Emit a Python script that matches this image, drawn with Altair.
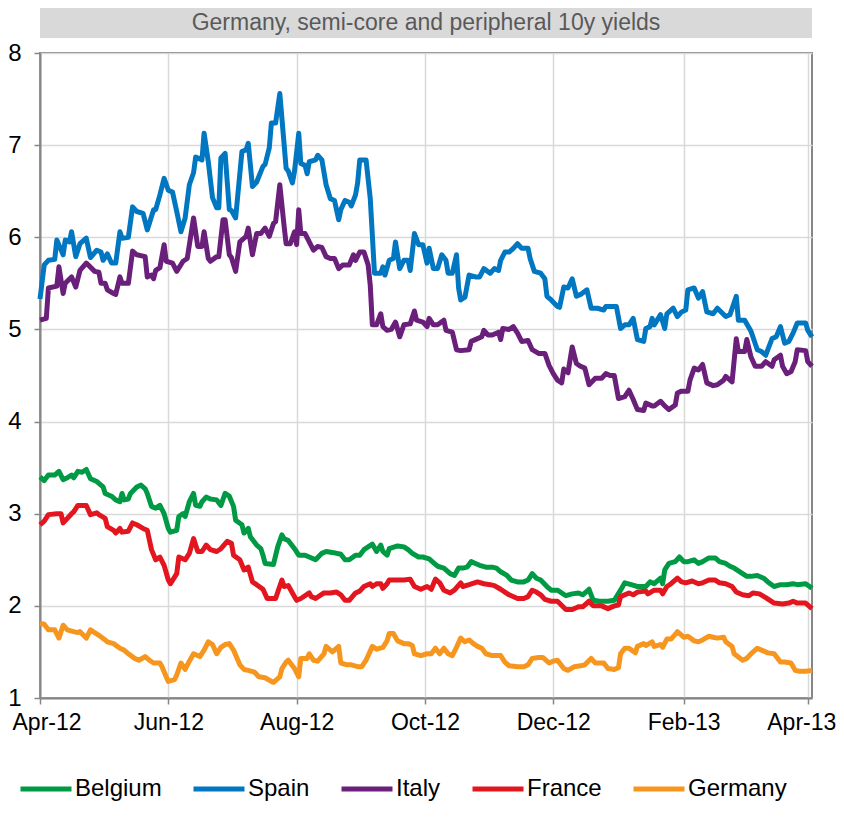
import altair as alt
import pandas as pd

TITLE = "Germany, semi-core and peripheral 10y yields"
START = "2012-04-01"
SERIES = ["Belgium", "Spain", "Italy", "France", "Germany"]
COLORS = ["#009A44", "#0077C0", "#6A1F7A", "#E3161F", "#F7961E"]
TICK_MONTHS = [(2012, 4), (2012, 6), (2012, 8), (2012, 10), (2012, 12), (2013, 2), (2013, 4)]
Y_TICKS = [1, 2, 3, 4, 5, 6, 7, 8]

# (days since 2012-04-01, yield %)
BELGIUM = [(0,3.40),(2,3.36),(4,3.42),(7,3.42),(9,3.46),(11,3.37),(13,3.39),(15,3.42),(16,3.39),(18,3.46),(20,3.45),(22,3.48),(24,3.38),(27,3.35),(28,3.33),(30,3.29),(31,3.22),(34,3.19),(36,3.15),(38,3.13),(39,3.22),(40,3.15),(42,3.16),(43,3.22),(46,3.29),(48,3.31),(50,3.27),(51,3.22),(53,3.08),(55,3.06),(57,3.09),(59,3.00),(61,2.84),(62,2.80),(65,2.82),(66,2.97),(68,3.00),(69,2.97),(71,3.13),(73,3.22),(74,3.09),(76,3.08),(77,3.13),(79,3.18),(81,3.16),(84,3.15),(86,3.09),(88,3.22),(90,3.19),(92,3.08),(93,2.93),(96,2.88),(97,2.79),(99,2.84),(100,2.75),(103,2.66),(105,2.62),(106,2.55),(107,2.46),(111,2.45),(113,2.64),(115,2.77),(116,2.73),(118,2.71),(121,2.62),(123,2.55),(126,2.55),(128,2.53),(131,2.50),(134,2.57),(136,2.59),(139,2.58),(143,2.56),(145,2.50),(147,2.50),(150,2.55),(152,2.55),(154,2.61),(158,2.67),(160,2.59),(162,2.66),(163,2.59),(165,2.55),(166,2.62),(170,2.65),(173,2.64),(175,2.61),(177,2.57),(180,2.53),(182,2.53),(185,2.51),(187,2.47),(189,2.43),(192,2.41),(195,2.35),(197,2.33),(199,2.41),(201,2.41),(203,2.42),(205,2.48),(207,2.46),(209,2.44),(212,2.42),(215,2.42),(217,2.41),(219,2.37),(222,2.33),(224,2.28),(227,2.26),(230,2.26),(232,2.28),(234,2.35),(236,2.30),(238,2.28),(241,2.21),(243,2.17),(246,2.17),(250,2.11),(253,2.13),(256,2.14),(258,2.12),(261,2.18),(263,2.06),(266,2.05),(270,2.05),(273,2.06),(276,2.17),(278,2.25),(281,2.23),(284,2.21),(288,2.21),(290,2.26),(292,2.24),(295,2.30),(296,2.24),(297,2.39),(299,2.46),(302,2.48),(304,2.53),(306,2.48),(308,2.48),(311,2.50),(313,2.46),(315,2.48),(318,2.52),(321,2.52),(323,2.48),(326,2.46),(328,2.43),(330,2.41),(334,2.35),(336,2.32),(338,2.32),(341,2.33),(344,2.30),(346,2.26),(349,2.21),(352,2.23),(355,2.23),(358,2.24),(360,2.23),(364,2.24),(367,2.19)]

SPAIN = [(0,5.33),(2,5.70),(4,5.75),(7,5.76),(8,5.97),(11,5.81),(12,5.97),(14,5.95),(15,6.06),(17,5.79),(19,5.93),(22,5.99),(24,5.78),(27,5.86),(29,5.84),(30,5.75),(32,5.82),(34,5.72),(36,5.72),(38,6.06),(39,5.99),(42,6.00),(44,6.33),(46,6.28),(49,6.26),(51,6.08),(54,6.30),(55,6.30),(57,6.46),(59,6.64),(61,6.51),(63,6.49),(65,6.28),(67,6.06),(69,6.21),(71,6.57),(73,6.70),(74,6.87),(77,6.84),(78,7.13),(80,6.82),(82,6.43),(84,6.32),(85,6.32),(86,6.86),(88,6.91),(90,6.30),(91,6.29),(93,6.21),(96,6.93),(98,6.95),(99,7.02),(101,6.55),(103,6.60),(106,6.77),(107,6.79),(109,6.97),(110,7.24),(112,7.24),(114,7.56),(116,7.02),(117,6.75),(118,6.72),(120,6.59),(121,6.72),(123,7.13),(124,6.80),(126,6.78),(127,6.69),(128,6.82),(131,6.84),(132,6.89),(134,6.84),(136,6.57),(138,6.42),(140,6.40),(142,6.19),(143,6.30),(145,6.40),(147,6.38),(148,6.34),(150,6.46),(151,6.59),(152,6.84),(155,6.84),(157,6.42),(158,6.02),(159,5.61),(162,5.61),(163,5.68),(164,5.59),(166,5.75),(168,5.77),(169,5.95),(171,5.66),(173,5.75),(175,5.75),(176,5.64),(178,6.04),(180,5.92),(182,5.92),(184,5.72),(185,5.88),(187,5.66),(189,5.66),(191,5.81),(193,5.75),(194,5.61),(196,5.61),(198,5.81),(199,5.45),(200,5.32),(202,5.35),(204,5.59),(207,5.57),(209,5.57),(211,5.66),(214,5.61),(216,5.66),(218,5.64),(219,5.75),(221,5.84),(223,5.84),(225,5.88),(227,5.93),(229,5.88),(232,5.88),(233,5.77),(235,5.63),(238,5.61),(240,5.55),(241,5.36),(243,5.32),(246,5.25),(247,5.24),(249,5.46),(251,5.45),(253,5.55),(255,5.36),(257,5.38),(260,5.43),(262,5.23),(265,5.23),(268,5.21),(269,5.25),(272,5.25),(274,5.25),(276,5.01),(278,5.05),(280,5.05),(282,5.12),(284,4.89),(287,4.87),(288,5.01),(290,5.03),(291,5.12),(292,5.05),(295,5.16),(297,5.01),(298,5.17),(301,5.23),(303,5.14),(305,5.19),(307,5.21),(308,5.43),(311,5.45),(313,5.34),(315,5.41),(317,5.19),(320,5.17),(322,5.23),(326,5.14),(328,5.16),(331,5.36),(332,5.10),(335,5.10),(338,4.98),(341,4.78),(343,4.76),(345,4.72),(348,4.90),(350,4.92),(352,5.03),(354,4.85),(356,4.87),(358,4.96),(360,5.07),(364,5.07),(365,4.99),(367,4.92)]

ITALY = [(0,5.10),(3,5.12),(4,5.45),(8,5.47),(9,5.68),(11,5.39),(12,5.50),(15,5.57),(17,5.46),(19,5.64),(22,5.72),(26,5.63),(28,5.62),(29,5.50),(31,5.50),(32,5.43),(35,5.39),(36,5.38),(38,5.57),(39,5.50),(42,5.50),(44,5.85),(46,5.81),(50,5.79),(51,5.57),(53,5.59),(54,5.55),(55,5.64),(57,5.67),(59,5.92),(60,5.74),(63,5.72),(65,5.63),(68,5.74),(70,5.77),(73,6.21),(75,5.90),(77,5.90),(78,6.06),(80,5.77),(81,5.74),(84,5.79),(85,5.79),(87,6.19),(88,6.19),(90,5.81),(91,5.78),(93,5.63),(95,5.95),(98,6.01),(99,6.10),(101,5.81),(103,6.04),(105,6.04),(107,6.10),(109,6.01),(111,6.15),(112,6.17),(114,6.57),(116,6.13),(117,5.93),(119,5.93),(121,6.06),(122,5.92),(123,6.30),(124,6.04),(126,6.04),(128,5.95),(130,5.86),(132,5.90),(134,5.89),(136,5.79),(138,5.77),(140,5.77),(142,5.66),(144,5.70),(147,5.70),(149,5.81),(150,5.75),(152,5.84),(154,5.84),(156,5.70),(157,5.48),(158,5.05),(160,5.05),(162,5.17),(163,5.03),(165,4.99),(167,5.00),(169,5.08),(171,4.92),(173,5.05),(176,5.06),(178,5.20),(179,5.10),(182,5.08),(184,5.03),(185,5.12),(187,5.05),(189,5.05),(192,5.10),(193,4.99),(196,4.97),(198,4.78),(200,4.77),(204,4.78),(205,4.87),(208,4.90),(210,4.92),(211,4.99),(213,4.94),(215,4.94),(218,4.97),(219,4.89),(220,5.01),(223,5.00),(225,5.03),(227,4.96),(229,4.87),(232,4.88),(234,4.78),(237,4.74),(240,4.74),(242,4.61),(244,4.52),(246,4.45),(248,4.42),(249,4.57),(251,4.53),(253,4.81),(255,4.63),(257,4.60),(259,4.58),(261,4.40),(264,4.47),(267,4.47),(269,4.52),(271,4.50),(273,4.50),(275,4.25),(278,4.27),(280,4.34),(282,4.24),(284,4.13),(287,4.12),(288,4.20),(291,4.17),(292,4.17),(295,4.22),(297,4.17),(299,4.13),(302,4.18),(303,4.31),(305,4.33),(308,4.33),(309,4.45),(311,4.58),(313,4.56),(315,4.62),(317,4.42),(320,4.39),(322,4.40),(325,4.45),(326,4.49),(329,4.43),(331,4.90),(332,4.76),(335,4.76),(336,4.89),(338,4.70),(340,4.60),(343,4.60),(345,4.65),(348,4.60),(349,4.67),(352,4.72),(353,4.60),(355,4.52),(357,4.54),(359,4.65),(360,4.78),(364,4.77),(365,4.65),(367,4.60)]

FRANCE = [(0,2.88),(2,2.92),(4,2.99),(8,3.00),(10,3.00),(11,2.90),(13,2.95),(15,3.00),(16,3.02),(18,3.09),(20,3.09),(22,3.09),(24,2.99),(27,3.01),(28,2.99),(31,2.95),(32,2.86),(35,2.82),(36,2.79),(38,2.84),(39,2.80),(42,2.81),(44,2.90),(46,2.88),(49,2.84),(51,2.82),(53,2.61),(55,2.50),(57,2.53),(59,2.44),(61,2.28),(62,2.24),(65,2.35),(66,2.53),(69,2.50),(71,2.57),(73,2.73),(75,2.59),(77,2.59),(79,2.66),(81,2.61),(84,2.59),(86,2.62),(89,2.70),(91,2.68),(92,2.55),(95,2.50),(97,2.39),(99,2.42),(101,2.26),(103,2.23),(106,2.18),(108,2.08),(112,2.08),(115,2.28),(116,2.21),(118,2.22),(121,2.10),(122,2.06),(124,2.08),(128,2.14),(129,2.10),(131,2.08),(135,2.14),(138,2.14),(141,2.15),(143,2.12),(145,2.06),(147,2.06),(150,2.14),(152,2.16),(154,2.21),(157,2.24),(158,2.21),(160,2.24),(162,2.24),(163,2.19),(165,2.24),(166,2.28),(170,2.28),(173,2.28),(176,2.29),(178,2.21),(181,2.18),(184,2.21),(186,2.18),(188,2.29),(190,2.25),(192,2.17),(195,2.14),(197,2.17),(200,2.25),(201,2.21),(204,2.23),(208,2.26),(211,2.24),(214,2.23),(216,2.22),(219,2.18),(221,2.15),(223,2.12),(227,2.08),(230,2.08),(232,2.10),(234,2.17),(236,2.15),(238,2.12),(240,2.07),(243,2.05),(246,2.05),(250,1.96),(253,1.96),(256,1.99),(258,1.99),(261,2.05),(263,2.00),(267,2.00),(270,1.97),(273,2.00),(275,2.01),(276,2.10),(280,2.14),(282,2.12),(284,2.15),(288,2.16),(289,2.13),(292,2.17),(295,2.17),(296,2.13),(298,2.21),(300,2.24),(303,2.30),(305,2.26),(307,2.25),(310,2.27),(313,2.24),(315,2.25),(318,2.28),(321,2.28),(323,2.25),(326,2.24),(329,2.21),(331,2.15),(334,2.12),(337,2.11),(339,2.14),(342,2.13),(345,2.09),(349,2.03),(353,2.02),(356,2.03),(358,2.05),(360,2.03),(364,2.03),(367,1.97)]

GERMANY = [(0,1.81),(2,1.80),(4,1.74),(7,1.74),(9,1.65),(11,1.79),(13,1.74),(16,1.72),(18,1.71),(19,1.72),(22,1.65),(24,1.74),(26,1.71),(28,1.68),(31,1.63),(32,1.61),(35,1.59),(38,1.54),(40,1.52),(42,1.48),(45,1.43),(47,1.41),(50,1.45),(52,1.41),(54,1.38),(57,1.38),(58,1.34),(60,1.23),(61,1.18),(64,1.20),(65,1.25),(67,1.38),(69,1.31),(71,1.40),(73,1.48),(76,1.45),(78,1.52),(80,1.61),(82,1.58),(84,1.48),(86,1.55),(88,1.58),(90,1.59),(92,1.52),(95,1.36),(97,1.31),(99,1.30),(102,1.28),(104,1.23),(107,1.22),(110,1.18),(111,1.17),(114,1.23),(115,1.32),(117,1.39),(118,1.41),(121,1.32),(123,1.23),(124,1.43),(127,1.43),(128,1.48),(130,1.41),(132,1.40),(135,1.48),(136,1.56),(139,1.50),(142,1.56),(143,1.38),(146,1.36),(148,1.36),(151,1.34),(153,1.34),(155,1.41),(158,1.56),(160,1.53),(163,1.55),(165,1.62),(166,1.70),(168,1.70),(170,1.62),(173,1.59),(175,1.59),(177,1.57),(178,1.48),(181,1.46),(184,1.48),(186,1.48),(188,1.54),(190,1.48),(192,1.54),(194,1.48),(196,1.46),(198,1.55),(200,1.65),(202,1.61),(204,1.63),(206,1.59),(208,1.56),(210,1.54),(212,1.48),(215,1.46),(219,1.46),(221,1.39),(223,1.35),(227,1.34),(230,1.34),(232,1.36),(234,1.43),(237,1.44),(239,1.44),(242,1.38),(244,1.40),(246,1.41),(249,1.32),(251,1.30),(254,1.34),(257,1.35),(259,1.36),(262,1.43),(264,1.38),(268,1.38),(270,1.32),(273,1.31),(275,1.33),(276,1.48),(278,1.54),(280,1.54),(283,1.49),(284,1.56),(287,1.59),(288,1.57),(291,1.61),(292,1.56),(295,1.58),(296,1.55),(298,1.64),(300,1.64),(302,1.69),(303,1.72),(306,1.66),(308,1.67),(311,1.62),(313,1.61),(315,1.63),(318,1.67),(320,1.66),(322,1.65),(325,1.66),(326,1.61),(329,1.56),(330,1.48),(334,1.41),(336,1.43),(338,1.48),(341,1.54),(343,1.52),(346,1.49),(349,1.48),(352,1.39),(354,1.39),(357,1.38),(359,1.30),(361,1.29),(364,1.29),(367,1.30)]

start = pd.Timestamp(START)
rows = []
for name, pts in zip(SERIES, [BELGIUM, SPAIN, ITALY, FRANCE, GERMANY]):
    for d, v in pts:
        rows.append({
            "date": (start + pd.Timedelta(days=d)).strftime("%Y-%m-%dT%H:%M:%S"),
            "series": name,
            "value": v,
        })
df = pd.DataFrame(rows)

FONT = "Liberation Sans"
tick_values = [alt.DateTime(year=y, month=m, date=1) for y, m in TICK_MONTHS]

lines = alt.Chart(df).mark_line(strokeWidth=5, strokeJoin="round").encode(
    x=alt.X(
        "date:T",
        scale=alt.Scale(domain=[alt.DateTime(year=2012, month=4, date=1),
                                alt.DateTime(year=2013, month=4, date=3)]),
        axis=alt.Axis(values=tick_values, format="%b-%y", title=None,
                      labelFontSize=23, labelFlush=6, labelFlushOffset=28,
                      labelOverlap=False, labelBound=False,
                      tickSize=6, labelPadding=7),
    ),
    y=alt.Y(
        "value:Q",
        scale=alt.Scale(domain=[1, 8], nice=False, zero=False),
        axis=alt.Axis(values=Y_TICKS, title=None, tickSize=6, labelPadding=13),
    ),
    color=alt.Color(
        "series:N",
        scale=alt.Scale(domain=SERIES, range=COLORS),
        legend=alt.Legend(
            title=None, orient="none", direction="horizontal",
            legendX=-22, legendY=708,
            symbolType="stroke", symbolSize=2601, symbolStrokeWidth=5,
            labelFontSize=24, labelFont=FONT, labelColor="#000000",
            labelOffset=1, columnPadding=21, padding=0,
        ),
    ),
)

band = alt.Chart(pd.DataFrame({"t": [TITLE]})).mark_rect(color="#D9D9D9").encode(
    x=alt.value(0), x2=alt.value(772), y=alt.value(-45), y2=alt.value(-15)
)
title = alt.Chart(pd.DataFrame({"t": [TITLE]})).mark_text(
    font=FONT, fontSize=23, color="#595959", baseline="middle", align="center"
).encode(x=alt.value(386), y=alt.value(-30), text="t:N")

chart = alt.layer(band, title, lines).properties(
    width=772, height=645,
    padding={"left": 32, "top": 45, "right": 24, "bottom": 126},
    autosize=alt.AutoSizeParams(type="none"),
).configure_view(
    stroke="#868686", strokeWidth=2
).configure_axis(
    labelFont=FONT, labelFontSize=24, labelColor="#000000",
    domainColor="#868686", domainWidth=2,
    tickColor="#868686", tickWidth=1.5,
    gridColor="#D9D9D9", gridWidth=1.5,
)

chart.save("out.html", embed_options={"renderer": "svg", "actions": False})
